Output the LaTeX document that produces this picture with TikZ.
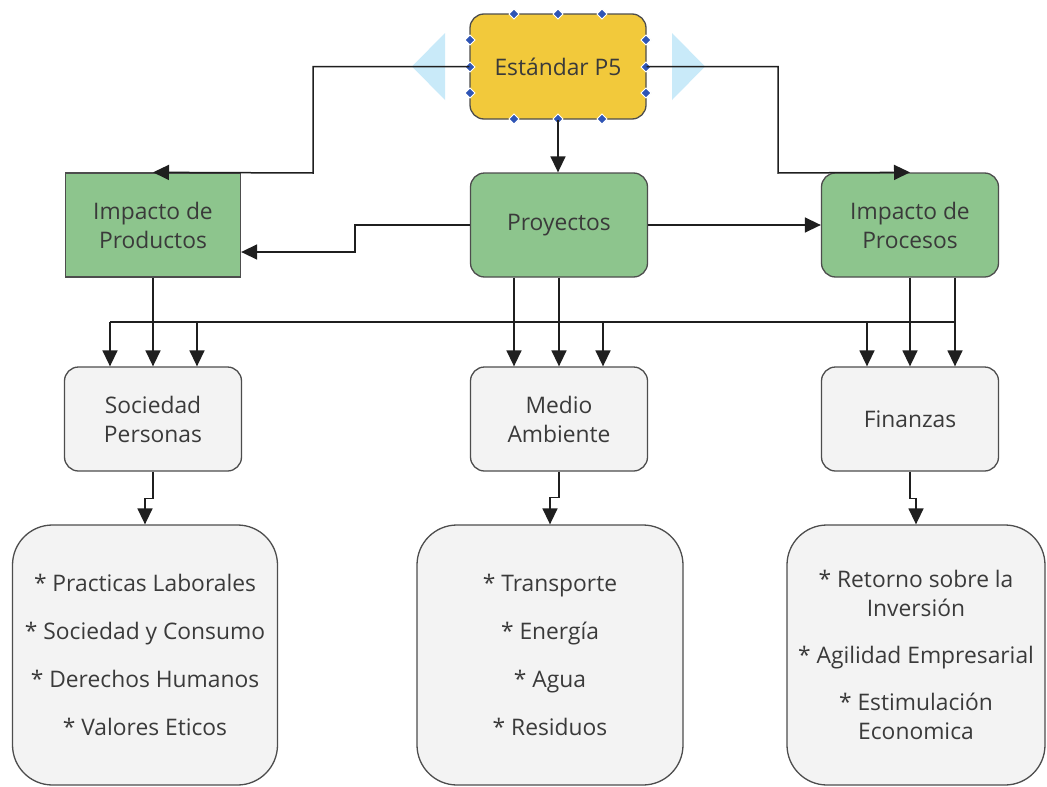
\documentclass[tikz,border=0pt]{standalone}
\usepackage{fontspec}
\setmainfont{Open Sans}
\usetikzlibrary{arrows.meta}
\definecolor{yel}{HTML}{F2C93B}
\definecolor{grn}{HTML}{8DC58D}
\definecolor{lgr}{HTML}{F3F3F3}
\definecolor{bord}{HTML}{4D4D4D}
\definecolor{txt}{HTML}{3A3A3A}
\definecolor{hdl}{HTML}{2F55B5}
\definecolor{tri}{HTML}{C9EAF9}
\begin{document}
\begin{tikzpicture}[x=1pt,y=-1pt,
  base/.style={draw=bord, line width=1.3pt, text=txt, align=center,
    font=\fontsize{22.8}{29}\selectfont, inner sep=0pt},
  topbox/.style={base, fill=yel, rounded corners=14pt, minimum width=176pt, minimum height=105pt},
  grnbox/.style={base, fill=grn, rounded corners=14pt, minimum width=177pt, minimum height=104pt},
  sqbox/.style={base, fill=grn, minimum width=175pt, minimum height=104pt},
  midbox/.style={base, fill=lgr, rounded corners=14pt, minimum width=177pt, minimum height=104pt},
  bigbox/.style={base, fill=lgr, rounded corners=40pt, minimum height=260pt},
  conn/.style={draw=black!88, line width=1.5pt},
  arr/.style={conn, -{Triangle[length=16pt,width=15pt]}},
  handle/.style={fill=hdl, draw=white, line width=0.8pt},
  trifill/.style={fill=tri}]
\useasboundingbox (0,0) rectangle (1047,787);
\fill[white] (0,0) rectangle (1047,787);

% selection triangles
\fill[trifill] (445,33) -- (412,66.5) -- (445,100) -- cycle;
\fill[trifill] (672,33) -- (705,66.5) -- (672,100) -- cycle;

\node[topbox] (est) at (558,66.5) {Estándar P5};
\node[sqbox] (prod) at (153,225) {Impacto de\\Productos};
\node[grnbox] (proy) at (559,225) {Proyectos};
\node[grnbox] (proc) at (910,225) {Impacto de\\Procesos};
\node[midbox] (soc) at (153,419) {Sociedad\\Personas};
\node[midbox] (med) at (559,419) {Medio\\Ambiente};
\node[midbox] (fin) at (910,419) {Finanzas};
\node[bigbox, minimum width=265pt] (bl) at (145,655)
  {* Practicas Laborales\\[19pt]* Sociedad y Consumo\\[19pt]* Derechos Humanos\\[19pt]* Valores Eticos};
\node[bigbox, minimum width=266pt] (bm) at (550,655)
  {* Transporte\\[19pt]* Energía\\[19pt]* Agua\\[19pt]* Residuos};
\node[bigbox, minimum width=258pt] (br) at (916,655)
  {* Retorno sobre la\\Inversión\\[18pt]* Agilidad Empresarial\\[18pt]* Estimulación\\Economica};

% handles
\foreach \x/\y in {514/14,558/14,602/14,514/119,558/119,602/119,470/40,470/67,470/93,646/40,646/67,646/93}
  \draw[handle] (\x,\y) +(-5,0) -- +(0,-5) -- +(5,0) -- +(0,5) -- cycle;

% coordinates
\coordinate (j1) at (313,173);
\coordinate (j2) at (778,173);
\coordinate (j3) at (355,252);
\coordinate (b1) at (110,322);
\coordinate (b9) at (955,322);
\coordinate (t3) at (197,322);
\coordinate (t6) at (603,322);
\coordinate (t7) at (867,322);

% top connectors
\draw[arr] (est.west) -| (j1) -- (prod.north);
\draw[arr] (est.east) -| (j2) -- (proc.north);
\draw[arr] (est.south) -- (est.south |- proy.north);
\draw[arr] (proy.west) -| (j3) -- ([yshift=-27pt]prod.east);
\draw[arr] (proy.east) -- (proc.west);

% bus
\draw[conn] (b1) -- (b9);
\draw[arr] (prod.south) -- (soc.north);
\draw[arr] (b1) -- (b1 |- soc.north);
\draw[arr] (t3) -- (t3 |- soc.north);
\draw[arr] ([xshift=-45pt]proy.south) -- ([xshift=-45pt]med.north);
\draw[arr] (proy.south) -- (med.north);
\draw[arr] (t6) -- (t6 |- med.north);
\draw[arr] (proc.south) -- (fin.north);
\draw[arr] ([xshift=45pt]proc.south) -- ([xshift=45pt]fin.north);
\draw[arr] (t7) -- (t7 |- fin.north);

% lower connectors
\draw[arr] (soc.south) -- ++(0,27) -| (bl.north);
\draw[arr] (med.south) -- ++(0,26) -| (bm.north);
\draw[arr] (fin.south) -- ++(0,27) -| (br.north);
\end{tikzpicture}
\end{document}
